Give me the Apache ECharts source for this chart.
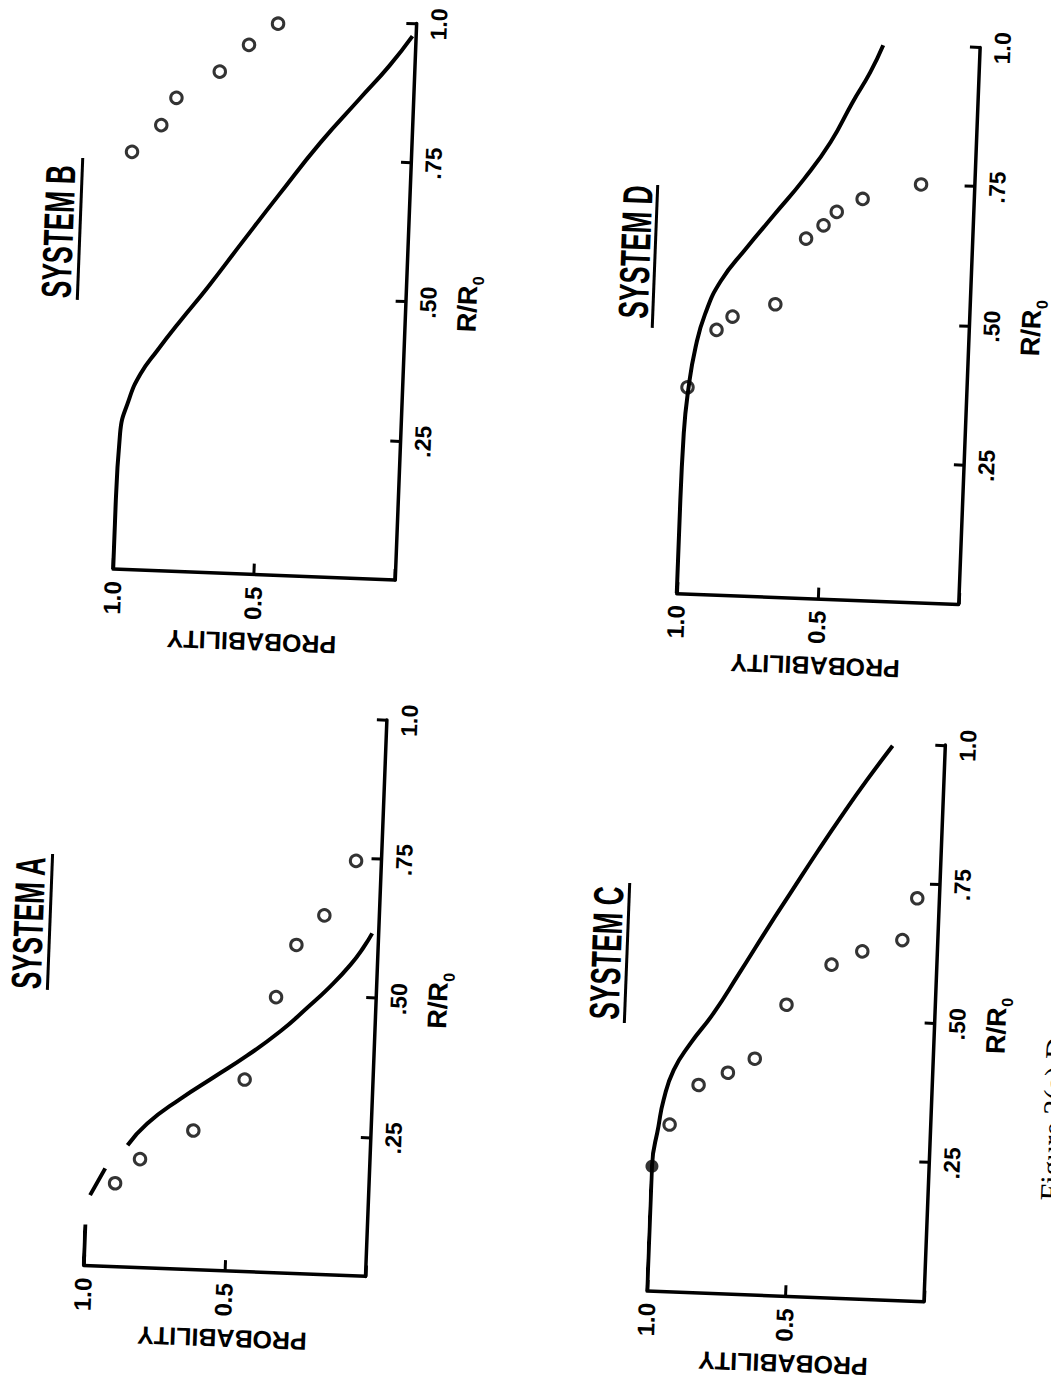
<!DOCTYPE html>
<html>
<head>
<meta charset="utf-8">
<script src="https://cdn.jsdelivr.net/npm/echarts@6/dist/echarts.min.js"></script>
<style>
  html, body { margin: 0; padding: 0; background: #fff; overflow: hidden; width: 1051px; height: 1387px; }
  /* the sheet sits slightly turned, so the whole drawing is tilted a little */
  #chart { position: absolute; left: -50px; top: -50px; width: 1151px; height: 1487px;
           transform: rotate(2.2deg); transform-origin: 575.5px 743.5px; }
</style>
</head>
<body>
<div id="chart"></div>
<script>
// ---- tick values and printed tick labels ----
const rTicks = [0.25, 0.5, 0.75, 1.0];
const rTickLabels = ['.25', '.50', '.75', '1.0'];
const pTicks = [0.5, 1.0];
const pTickLabels = ['0.5', '1.0'];
const panelTitles = ['SYSTEM A', 'SYSTEM B', 'SYSTEM C', 'SYSTEM D'];

// ---- System A (null = break in the printed curve) ----
const curveA_R = [0, 0.074, null, 0.127, 0.176, null, 0.219, 0.259, 0.306, 0.347, 0.388, 0.434, 0.478, 0.518, 0.558, 0.591, 0.616];
const curveA_P = [1.0, 1.0, null, 0.987, 0.937, null, 0.861, 0.795, 0.68, 0.565, 0.45, 0.335, 0.243, 0.164, 0.096, 0.051, 0.023];
const pointsA_R = [0.15, 0.195, 0.25, 0.345, 0.495, 0.59, 0.645, 0.745];
const pointsA_P = [0.90, 0.815, 0.63, 0.455, 0.355, 0.29, 0.195, 0.09];

// ---- System B ----
const curveB_R = [0, 0.124, 0.244, 0.304, 0.352, 0.395, 0.45, 0.511, 0.597, 0.682, 0.78, 0.86, 0.922, 0.977];
const curveB_P = [1.0, 1.0, 0.994, 0.968, 0.93, 0.874, 0.796, 0.705, 0.585, 0.465, 0.323, 0.192, 0.09, 0.012];
const pointsB_R = [0.75, 0.80, 0.85, 0.90, 0.95, 0.99];
const pointsB_P = [0.99, 0.89, 0.84, 0.69, 0.59, 0.49];

// ---- System C ----
const curveC_R = [0, 0.14, 0.224, 0.296, 0.344, 0.398, 0.447, 0.502, 0.575, 0.662, 0.722, 0.801, 0.869, 0.93, 0.995];
const curveC_P = [1.0, 1.0, 1.0, 0.982, 0.967, 0.935, 0.878, 0.80, 0.713, 0.612, 0.54, 0.445, 0.36, 0.28, 0.19];
const pointsC_R = [0.30, 0.373, 0.397, 0.424, 0.523, 0.598, 0.624, 0.647, 0.723];
const pointsC_P = [0.942, 0.843, 0.739, 0.644, 0.537, 0.38, 0.271, 0.128, 0.08];
const solidC_R = [0.224];
const solidC_P = [1.0];

// ---- System D ----
const curveD_R = [0, 0.167, 0.287, 0.37, 0.442, 0.502, 0.5625, 0.624, 0.685, 0.752, 0.82, 0.8925, 0.948, 0.997];
const curveD_P = [1.0, 1.0, 0.997, 0.986, 0.967, 0.938, 0.887, 0.8, 0.707, 0.605, 0.516, 0.444, 0.385, 0.343];
const pointsD_R = [0.37, 0.475, 0.50, 0.525, 0.645, 0.67, 0.695, 0.72, 0.75];
const pointsD_P = [0.99, 0.895, 0.84, 0.69, 0.59, 0.53, 0.485, 0.395, 0.19];

// ---- layout of the four plots (A, B, C, D) ----
const layouts = [
  { left: 156,   top: 775.2, width: 282, height: 557 },
  { left: 158.7, top: 78.1,  width: 282, height: 557 },
  { left: 720,   top: 778.8, width: 277, height: 557 },
  { left: 722.8, top: 80.4,  width: 282, height: 557 }
];
const titlePlaces = [
  { x: 87.2,  y: 991.9, ux: 109.1, uy1: 922,   uy2: 1058 },
  { x: 90.6,  y: 299.8, ux: 112.5, uy1: 225.4, uy2: 367.4 },
  { x: 665.9, y: 999.7, ux: 686.9, uy1: 928.9, uy2: 1068.9 },
  { x: 668,   y: 298.1, ux: 688.1, uy1: 230.3, uy2: 373.3 }
];

const FONT = '"Liberation Sans", "DejaVu Sans", Arial, sans-serif';

function zip(rs, ps) {
  return rs.map((r, i) => (r === null || ps[i] === null) ? ['-', '-'] : [ps[i], r]);
}
function pickLabel(ticks, labels) {
  return v => {
    const i = ticks.findIndex(t => Math.abs(t - v) < 1e-6);
    return i < 0 ? '' : labels[i];
  };
}

const panels = [
  { curve: zip(curveA_R, curveA_P), points: zip(pointsA_R, pointsA_P), solid: [] },
  { curve: zip(curveB_R, curveB_P), points: zip(pointsB_R, pointsB_P), solid: [] },
  { curve: zip(curveC_R, curveC_P), points: zip(pointsC_R, pointsC_P), solid: zip(solidC_R, solidC_P) },
  { curve: zip(curveD_R, curveD_P), points: zip(pointsD_R, pointsD_P), solid: [] }
];

const grid = [], xAxis = [], yAxis = [], series = [], graphics = [];

panels.forEach((pnl, i) => {
  grid.push(Object.assign({ containLabel: false, outerBoundsMode: 'none' }, layouts[i]));

  // probability runs along the bottom, 1.0 at the left
  xAxis.push({
    gridIndex: i, type: 'value', min: 0, max: 1, interval: 0.5, inverse: true,
    axisLine: { show: true, onZero: false, lineStyle: { color: '#000', width: 3.5 } },
    axisTick: { show: true, inside: true, length: 11, lineStyle: { color: '#000', width: 3 } },
    splitLine: { show: false },
    axisLabel: {
      rotate: 90, margin: 12, color: '#000', fontFamily: FONT, fontWeight: 'bold', fontSize: 24,
      showMinLabel: true, showMaxLabel: true,
      formatter: pickLabel(pTicks, pTickLabels)
    },
    name: 'PROBABILITY', nameLocation: 'middle', nameRotate: 180, nameGap: 55,
    nameTextStyle: { color: '#000', fontFamily: FONT, fontWeight: 'bold', fontSize: 25 }
  });

  // R/R0 runs up the right side
  yAxis.push({
    gridIndex: i, type: 'value', position: 'right', min: 0, max: 1, interval: 0.25,
    axisLine: { show: true, onZero: false, lineStyle: { color: '#000', width: 3.5 } },
    axisTick: { show: true, inside: true, length: 10, lineStyle: { color: '#000', width: 3 } },
    splitLine: { show: false },
    axisLabel: {
      rotate: 90, margin: 11, color: '#000', fontFamily: FONT, fontWeight: 'bold', fontSize: 23,
      showMinLabel: false, showMaxLabel: true,
      formatter: pickLabel(rTicks, rTickLabels)
    },
    name: '{r|R/R}{s|0}', nameLocation: 'middle', nameRotate: 90, nameGap: 47,
    nameTextStyle: {
      rich: {
        r: { color: '#000', fontFamily: FONT, fontWeight: 'bold', fontSize: 27, lineHeight: 30 },
        s: { color: '#000', fontFamily: FONT, fontWeight: 'bold', fontSize: 16, lineHeight: 17,
             padding: [17, 0, 0, 1], verticalAlign: 'top' }
      }
    }
  });

  series.push({
    type: 'scatter', xAxisIndex: i, yAxisIndex: i, data: pnl.points, z: 2,
    symbol: 'circle', symbolSize: 11.5,
    itemStyle: { color: '#fff', borderColor: '#000', borderWidth: 3 }
  });
  if (pnl.solid.length) {
    series.push({
      type: 'scatter', xAxisIndex: i, yAxisIndex: i, data: pnl.solid, z: 4,
      symbol: 'circle', symbolSize: 13, itemStyle: { color: '#000' }
    });
  }
  series.push({
    type: 'line', xAxisIndex: i, yAxisIndex: i, data: pnl.curve, z: 3,
    smooth: 0.5, showSymbol: false, connectNulls: false,
    lineStyle: { color: '#000', width: 4 }
  });

  const tp = titlePlaces[i];
  graphics.push({
    type: 'text', x: tp.x, y: tp.y, rotation: Math.PI / 2, scaleX: 0.62,
    style: { text: panelTitles[i], font: 'bold 42px "Liberation Sans", sans-serif',
             fill: '#000', textAlign: 'center', textVerticalAlign: 'middle' }
  });
  graphics.push({
    type: 'line', shape: { x1: tp.ux, y1: tp.uy1, x2: tp.ux, y2: tp.uy2 },
    style: { stroke: '#000', lineWidth: 3 }
  });
});

// caption running off the right edge of the sheet
graphics.push({
  type: 'text', x: 1104, y: 1230, rotation: Math.PI / 2,
  style: { text: 'Figure 2(a) D', font: '30px "Liberation Serif", serif',
           fill: '#000', textAlign: 'left', textVerticalAlign: 'top' }
});

const chart = echarts.init(document.getElementById('chart'), null, { renderer: 'svg' });
chart.setOption({
  animation: false,
  backgroundColor: '#fff',
  grid, xAxis, yAxis, series,
  graphic: { elements: graphics }
});
</script>
</body>
</html>
